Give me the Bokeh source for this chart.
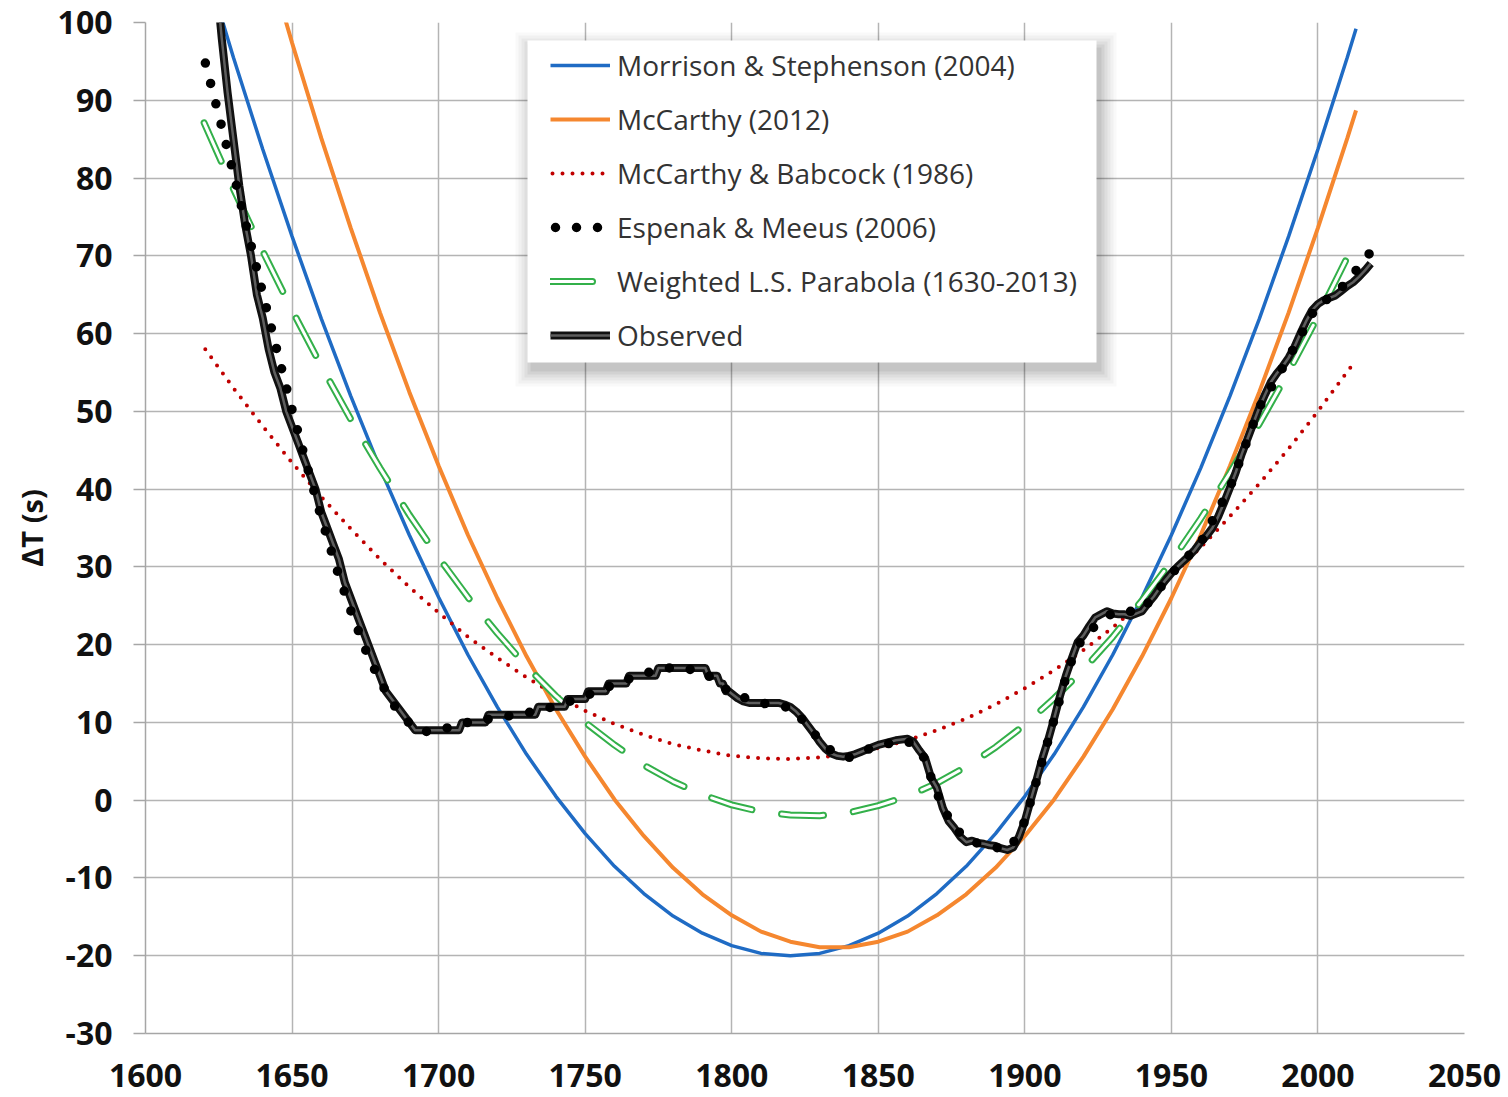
from bokeh.plotting import figure
from bokeh.models import (Legend, LegendItem, FixedTicker, BoxAnnotation, Range1d,
                          NumeralTickFormatter)
from bokeh.embed import file_html
from bokeh.resources import INLINE

# ---------------- data ----------------
years_fit = [1620, 1630, 1640, 1650, 1660, 1670, 1680, 1690, 1700, 1710,
             1720, 1730, 1740, 1750, 1760, 1770, 1780, 1790, 1800, 1810,
             1820, 1830, 1840, 1850, 1860, 1870, 1880, 1890, 1900, 1910,
             1920, 1930, 1940, 1950, 1960, 1970, 1980, 1990, 2000, 2010, 2013]

morrison_2004 = [108.0, 95.5, 83.7, 72.5, 61.9, 52.0, 42.7, 34.1, 26.1, 18.7,
                 12.0, 5.9, 0.5, -4.3, -8.5, -12.0, -14.9, -17.1, -18.7, -19.7,
                 -20.0, -19.7, -18.7, -17.1, -14.9, -12.0, -8.5, -4.3, 0.5, 5.9,
                 12.0, 18.7, 26.1, 34.1, 42.7, 52.0, 61.9, 72.5, 83.7, 95.5, 99.2]

mccarthy_2012 = [138.2, 123.9, 110.3, 97.4, 85.1, 73.6, 62.7, 52.5, 43.0, 34.1,
                 26.0, 18.5, 11.7, 5.6, 0.1, -4.6, -8.7, -12.1, -14.8, -16.9,
                 -18.2, -18.9, -18.9, -18.2, -16.9, -14.8, -12.1, -8.7, -4.6, 0.1,
                 5.6, 11.7, 18.5, 26.0, 34.1, 43.0, 52.5, 62.7, 73.6, 85.1, 88.7]

mccarthy_babcock_1986 = [58.2, 53.0, 48.1, 43.4, 39.0, 34.9, 31.0, 27.4, 24.1, 21.0,
                         18.3, 15.8, 13.5, 11.5, 9.8, 8.4, 7.2, 6.4, 5.7, 5.4,
                         5.3, 5.5, 5.9, 6.7, 7.7, 9.0, 10.5, 12.3, 14.4, 16.7,
                         19.3, 22.2, 25.4, 28.8, 32.5, 36.5, 40.7, 45.2, 50.0, 55.1, 56.6]

ls_parabola = [87.1, 78.6, 70.6, 63.0, 55.8, 49.0, 42.7, 36.7, 31.2, 26.1,
               21.5, 17.2, 13.4, 10.0, 7.1, 4.5, 2.4, 0.7, -0.6, -1.5,
               -1.9, -2.0, -1.6, -0.7, 0.5, 2.2, 4.3, 6.8, 9.7, 13.1,
               16.8, 21.0, 25.7, 30.7, 36.2, 42.1, 48.4, 55.1, 62.2, 69.8, 72.2]

years_em = [1620, 1625, 1630, 1635, 1640, 1645, 1650, 1655, 1660, 1665,
            1670, 1675, 1680, 1685, 1690, 1695, 1700, 1710, 1720, 1730,
            1740, 1750, 1760, 1770, 1780, 1790, 1800, 1810, 1820, 1825,
            1830, 1835, 1840, 1845, 1850, 1860, 1865, 1870, 1875, 1880,
            1885, 1890, 1895, 1900, 1905, 1910, 1915, 1920, 1930, 1940,
            1950, 1960, 1970, 1980, 1990, 2000, 2005, 2010, 2018]
espenak_meeus_2006 = [95.4, 88.1, 80.6, 72.9, 65.2, 57.6, 50.2, 43.1, 36.3, 30.0,
                      24.4, 19.4, 15.3, 12.1, 9.9, 8.8, 9.0, 10.0, 10.6, 11.2,
                      12.1, 13.4, 14.9, 16.3, 17.1, 16.6, 13.7, 12.5, 11.9, 10.0,
                      7.7, 6.0, 5.5, 6.3, 7.1, 7.6, 6.0, 0.9, -3.1, -5.0,
                      -5.7, -6.1, -6.2, -2.7, 3.8, 10.4, 17.1, 21.2, 24.1, 24.4,
                      29.1, 33.1, 40.2, 50.5, 56.9, 63.9, 64.7, 66.7, 70.5]

years_obs = [1620, 1622, 1624, 1626, 1628, 1630, 1632, 1634, 1636, 1638,
             1640, 1642, 1644, 1646, 1648, 1650, 1652, 1654, 1656, 1658,
             1660, 1662, 1664, 1666, 1668, 1670, 1672, 1674, 1676, 1678,
             1680, 1682, 1684, 1686, 1688, 1690, 1692, 1707, 1708, 1716,
             1717, 1733, 1734, 1743, 1744, 1750, 1751, 1757, 1758, 1764,
             1765, 1774, 1775, 1791, 1792, 1795, 1796, 1797, 1798, 1799,
             1800, 1802, 1804, 1806, 1816, 1818, 1820, 1822, 1824, 1826,
             1828, 1830, 1832, 1834, 1836, 1838, 1840, 1842, 1844, 1846,
             1848, 1850, 1852, 1854, 1856, 1858, 1860, 1862, 1864, 1866,
             1868, 1870, 1872, 1874, 1876, 1878, 1880, 1882, 1884, 1886,
             1888, 1890, 1892, 1894, 1896, 1898, 1900, 1902, 1904, 1906,
             1908, 1910, 1912, 1914, 1916, 1918, 1920, 1922, 1924, 1926,
             1928, 1930, 1932, 1934, 1936, 1938, 1940, 1942, 1944, 1946,
             1948, 1950, 1952, 1954, 1956, 1958, 1960, 1962, 1964, 1966,
             1968, 1970, 1972, 1974, 1976, 1978, 1980, 1982, 1984, 1986,
             1988, 1990, 1992, 1994, 1996, 1998, 2000, 2002, 2004, 2006,
             2008, 2010, 2012, 2014, 2016, 2018]
observed = [124, 115, 106, 98, 91, 85, 79, 74, 70, 65,
            62, 58, 55, 53, 50, 48, 46, 44, 42, 40,
            37, 35, 33, 31, 28, 26, 24, 22, 20, 18,
            16, 14, 13, 12, 11, 10, 9, 9, 10, 10,
            11, 11, 12, 12, 13, 13, 14, 14, 15, 15,
            16, 16, 17, 17, 16, 16, 15, 15, 14, 14,
            13.7, 13.1, 12.7, 12.5, 12.5, 12.3, 12.0, 11.4, 10.6, 9.6,
            8.6, 7.5, 6.6, 6.0, 5.7, 5.6, 5.7, 5.9, 6.2, 6.5,
            6.8, 7.1, 7.3, 7.5, 7.7, 7.8, 7.9, 7.5, 6.4, 5.4,
            2.9, 1.6, -1.0, -2.7, -3.6, -4.7, -5.4, -5.2, -5.5, -5.6,
            -5.8, -5.9, -6.2, -6.4, -6.1, -4.7, -2.7, 0.0, 2.6, 5.4,
            7.8, 10.5, 13.4, 16.0, 18.2, 20.3, 21.2, 22.4, 23.5, 23.9,
            24.3, 24.0, 23.9, 23.9, 23.7, 24.0, 24.3, 25.3, 26.2, 27.3,
            28.3, 29.2, 30.0, 30.7, 31.4, 32.2, 33.2, 34.0, 35.0, 36.5,
            38.3, 40.2, 42.2, 44.5, 46.5, 48.5, 50.5, 52.2, 53.8, 54.9,
            55.8, 56.9, 58.3, 60.0, 61.6, 63.0, 63.8, 64.3, 64.6, 64.9,
            65.5, 66.1, 66.6, 67.3, 68.1, 69.0]

x_ticks = [1600, 1650, 1700, 1750, 1800, 1850, 1900, 1950, 2000, 2050]
y_ticks = [-30, -20, -10, 0, 10, 20, 30, 40, 50, 60, 70, 80, 90, 100]

labels = ["Morrison & Stephenson (2004)", "McCarthy (2012)", "McCarthy & Babcock (1986)",
          "Espenak & Meeus (2006)", "Weighted L.S. Parabola (1630-2013)", "Observed"]

# ---------------- figure ----------------
p = figure(width=1508, height=1097, output_backend="svg", toolbar_location=None,
           x_range=Range1d(1600, 2050), y_range=Range1d(-30, 100),
           min_border_left=145, min_border_right=44, min_border_top=22, min_border_bottom=64)
p.outline_line_color = None
p.background_fill_color = "white"
p.border_fill_color = "white"

GRID = "#b4b4b4"
for ax, tk in ((p.xaxis, x_ticks), (p.yaxis, y_ticks)):
    ax.ticker = FixedTicker(ticks=tk)
    ax.formatter = NumeralTickFormatter(format="0")
    ax.axis_line_color = "#a6a6a6"
    ax.axis_line_width = 1.5
    ax.minor_tick_line_color = None
    ax.major_label_text_font = "Open Sans"
    ax.major_label_text_font_style = "bold"
    ax.major_label_text_font_size = "32px"
    ax.major_label_text_color = "#111111"
p.xgrid.ticker = FixedTicker(ticks=x_ticks)
p.ygrid.ticker = FixedTicker(ticks=y_ticks)
p.grid.grid_line_color = GRID
p.grid.grid_line_width = 1.5

p.xaxis.major_tick_line_color = None
p.xaxis.major_tick_out = 0
p.xaxis.major_tick_in = 0
p.xaxis.major_label_standoff = 30

p.yaxis.major_tick_line_color = "#a6a6a6"
p.yaxis.major_tick_line_width = 1.5
p.yaxis.major_tick_out = 12
p.yaxis.major_tick_in = 0
p.yaxis.major_label_standoff = 21
p.yaxis.axis_label = "ΔT (s)"
p.yaxis.axis_label_text_font = "Open Sans"
p.yaxis.axis_label_text_font_style = "bold"
p.yaxis.axis_label_text_font_size = "29px"
p.yaxis.axis_label_text_color = "#111111"
p.yaxis.axis_label_standoff = 4

# ---------------- series ----------------
r_ms = p.line(years_fit, morrison_2004, line_color="#1F6BC4", line_width=3.5)
r_mc = p.line(years_fit, mccarthy_2012, line_color="#F5872F", line_width=4)
r_mb = p.line(years_fit, mccarthy_babcock_1986, line_color="#C00000", line_width=4,
              line_dash="0 10", line_dash_offset=8, line_cap="round")
r_ls_o = p.line(years_fit, ls_parabola, line_color="#33B04A", line_width=7,
                line_dash="42 30", line_cap="round")
r_ls_i = p.line(years_fit, ls_parabola, line_color="white", line_width=3,
                line_dash="42 30", line_cap="round")
r_ob_o = p.line(years_obs, observed, line_color="#111111", line_width=8, line_join="round")
r_ob_i = p.line(years_obs, observed, line_color="#5e5e5e", line_width=2.5, line_join="round")
r_em = p.line(years_em, espenak_meeus_2006, line_color="black", line_width=9.5,
              line_dash="0 21", line_dash_offset=16, line_cap="round")

# ---------------- legend box with soft shadow ----------------
L, R, T, B = 527, 1096, 40, 362
for g, a in ((16, 0.025), (13, 0.03), (10, 0.035), (7, 0.04), (4, 0.05), (1, 0.06)):
    p.add_layout(BoxAnnotation(left=L + 4 - g, right=R + 4 + g, top=T + 8 - g, bottom=B + 8 + g,
                               left_units="canvas", right_units="canvas",
                               top_units="canvas", bottom_units="canvas",
                               fill_color="black", fill_alpha=a, line_color=None))
p.add_layout(BoxAnnotation(left=L, right=R, top=T, bottom=B,
                           left_units="canvas", right_units="canvas",
                           top_units="canvas", bottom_units="canvas",
                           fill_color="white", fill_alpha=1.0, line_color=None))

legend = Legend(items=[
    LegendItem(label=labels[0], renderers=[r_ms]),
    LegendItem(label=labels[1], renderers=[r_mc]),
    LegendItem(label=labels[2], renderers=[r_mb]),
    LegendItem(label=labels[3], renderers=[r_em]),
    LegendItem(label=labels[4], renderers=[r_ls_o, r_ls_i]),
    LegendItem(label=labels[5], renderers=[r_ob_o, r_ob_i]),
], location=(405, 679), padding=6, spacing=16, glyph_width=60, glyph_height=30,
    label_height=30, label_standoff=7, label_text_font="Open Sans",
    label_text_font_size="28px", label_text_color="#333333",
    background_fill_alpha=0, border_line_color=None)
p.add_layout(legend)

open("out.html", "w").write(file_html(p, INLINE))
